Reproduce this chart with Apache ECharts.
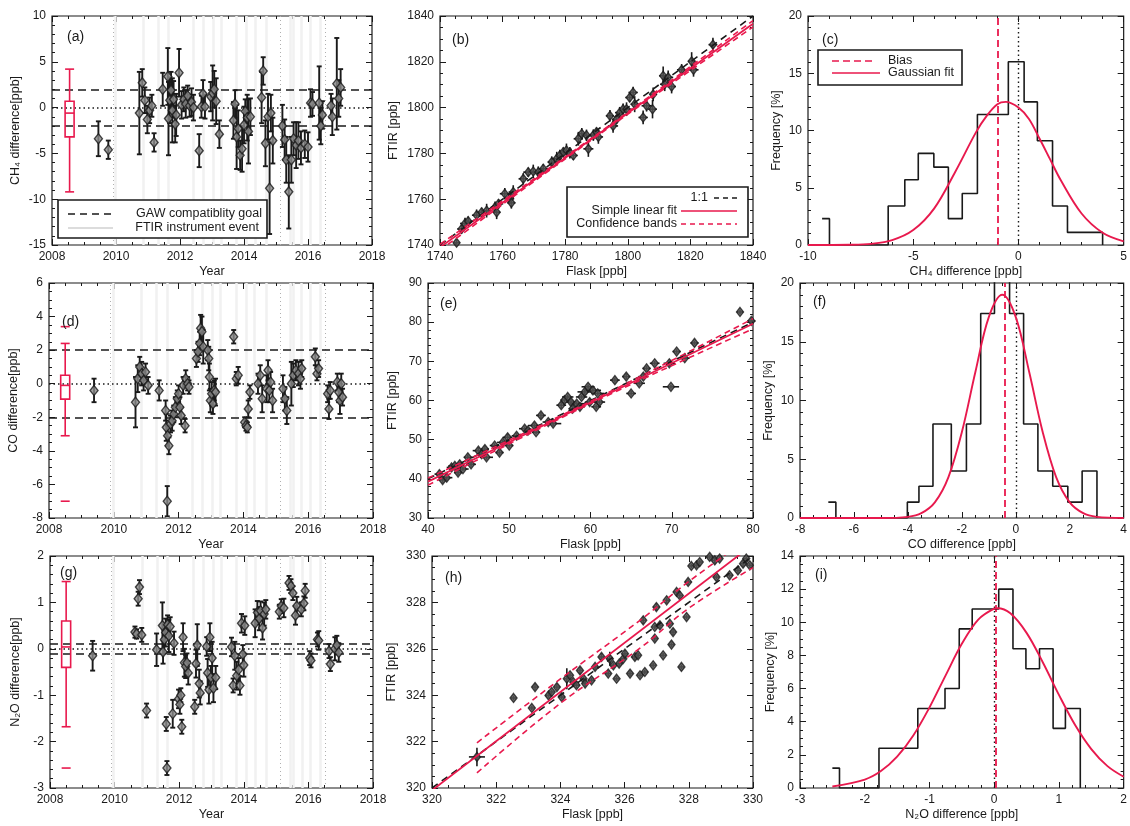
<!DOCTYPE html>
<html>
<head>
<meta charset="utf-8">
<title>FTIR vs flask comparison</title>
<script src="https://cdn.jsdelivr.net/npm/echarts@6/dist/echarts.min.js"></script>
<style>
  html, body { margin: 0; padding: 0; background: #fff; }
  #chart { width: 1130px; height: 826px; }
</style>
</head>
<body>
<div id="chart"></div>
<script>
const FONT = "'Liberation Sans', Arial, Helvetica, sans-serif";
const INK = '#1a1a1a';
const RED = '#e8194d';
const EVENT = '#f1f1f1';

// ---- instrument events (shared by the time series) ----
const eventYears = [2009.97, 2010.85, 2011.32, 2011.64, 2012.42, 2012.73, 2013.04, 2013.3, 2013.77,
  2014.08, 2014.34, 2014.71, 2015.44, 2015.54, 2015.8, 2016.06, 2016.38];
const eventDotted = [2009.9, 2015.13, 2016.53];

// ---- (a) CH4 difference time series ----
const aYear = [2009.45, 2009.76, 2010.73, 2010.82, 2010.9, 2010.98, 2011.05, 2011.12, 2011.19, 2011.46,
  2011.62, 2011.64, 2011.68, 2011.72, 2011.76, 2011.8, 2011.85, 2011.88, 2011.97, 2012.05,
  2012.12, 2012.18, 2012.24, 2012.3, 2012.36, 2012.42, 2012.6, 2012.67, 2012.72, 2012.78,
  2012.96, 2013.02, 2013.07, 2013.13, 2013.23, 2013.67, 2013.72, 2013.77, 2013.82, 2013.88,
  2013.94, 2014.0, 2014.04, 2014.1, 2014.14, 2014.2, 2014.55, 2014.6, 2014.67, 2014.75,
  2014.8, 2014.84, 2014.9, 2015.2, 2015.27, 2015.32, 2015.4, 2015.48, 2015.55, 2015.63,
  2015.7, 2015.78, 2015.9, 2016.0, 2016.08, 2016.14, 2016.35, 2016.4, 2016.45, 2016.72,
  2016.76, 2016.9, 2016.96, 2017.02];
const aDiff = [-3.4, -4.6, -0.6, 2.7, 0.8, -1.3, -0.3, 0.2, -3.8, 2.0,
  3.4, -1.2, 0.8, 1.9, -0.3, 0.9, -1.8, -0.8, 3.8, 0.3,
  0.9, 0.4, 1.3, 0.2, 0.6, 0.0, -4.7, 0.1, 1.5, 0.1,
  1.2, 1.6, 2.0, 0.7, -2.9, -1.4, 0.4, -3.2, -2.3, -5.2,
  -4.5, -1.9, -0.4, -1.1, -2.6, -1.0, 1.1, 4.0, -3.9, -1.0,
  -8.8, -0.6, -3.6, -2.0, -3.5, -5.7, -9.2, -5.7, -3.4, -4.1,
  -3.6, -4.4, -4.0, -4.3, 0.5, 0.4, 0.5, -2.0, -0.8, 0.2,
  -1.0, 2.6, 1.0, 2.2];
const aErr = [1.9, 1.0, 4.5, 1.5, 1.4, 1.5, 1.4, 1.2, 1.0, 1.8,
  3.1, 4.0, 2.5, 2.0, 3.5, 2.0, 2.0, 2.3, 2.6, 1.5,
  1.3, 1.5, 1.1, 1.2, 1.5, 1.4, 1.8, 1.2, 1.5, 1.3,
  1.6, 3.0, 2.0, 2.5, 1.5, 2.0, 1.5, 3.5, 2.0, 1.6,
  2.5, 2.0, 1.3, 2.5, 3.5, 2.0, 2.8, 1.5, 2.5, 2.5,
  5.0, 2.0, 2.5, 2.3, 2.2, 2.5, 4.0, 2.5, 1.8, 2.5,
  2.0, 1.8, 1.5, 1.6, 1.5, 1.3, 4.0, 2.0, 1.5, 1.3,
  2.0, 5.0, 2.0, 2.0];
const aBox = [2008.55, -9.2, -3.2, -0.6, 0.7, 4.2];   // x, min, q1, median, q3, max
const aOutliers = [];
const chGoal = [-2, 2];

// ---- (b) CH4 FTIR vs flask ----
const bFlask = [1745.3, 1746.9, 1748, 1749, 1751.7, 1753.3, 1754.9, 1757.6, 1758.7, 1758.1,
  1760.7, 1762.3, 1763.4, 1762.8, 1766.6, 1768.2, 1769.8, 1771.4, 1773, 1775.7,
  1777.3, 1778.3, 1779.4, 1780.4, 1781.5, 1782.6, 1784.2, 1785.3, 1786.8, 1787.4,
  1789, 1790, 1790.6, 1794.3, 1795.3, 1796.4, 1797.4, 1798.5, 1799.6, 1800.6,
  1801.7, 1802.2, 1804.9, 1806, 1807.9, 1808.1, 1811.8, 1811.3, 1812.9, 1814,
  1817.2, 1820.4, 1821, 1827.2];
const bFtir = [1741, 1747, 1749.4, 1750.4, 1753, 1754.3, 1755, 1756.5, 1758, 1754.3,
  1762.4, 1760.2, 1763.1, 1758.4, 1768.9, 1771.8, 1772.1, 1771.8, 1773.3, 1776.2,
  1777.7, 1779.1, 1780.6, 1781.3, 1780.3, 1779.1, 1786.4, 1788.6, 1787.9, 1782,
  1788, 1789.3, 1787.2, 1796.4, 1792, 1794.9, 1797.8, 1799.3, 1799.3, 1804.4,
  1806.6, 1801.5, 1795.7, 1800.8, 1799.3, 1805.8, 1810.2, 1813.9, 1813.2, 1809.2,
  1816.5, 1820.2, 1816.5, 1827.5];
const bErrX = [1.0, 1.4, 1.6, 1.2, 1.5, 1.3, 1.6, 1.4, 1.5, 1.2,
  1.6, 1.4, 1.5, 1.3, 1.5, 1.6, 1.4, 1.2, 1.5, 1.3,
  1.6, 1.4, 1.5, 1.2, 1.6, 1.4, 1.5, 1.3, 1.5, 1.6,
  1.4, 1.2, 1.5, 1.3, 1.6, 1.4, 1.5, 1.2, 1.6, 1.4,
  1.5, 1.3, 1.5, 1.6, 1.4, 1.2, 1.5, 1.3, 1.6, 1.4,
  1.5, 1.2, 1.6, 1.4];
const bErrY = [1.5, 2.0, 2.5, 2.0, 2.5, 2.0, 3.0, 2.5, 2.0, 3.0,
  2.5, 2.0, 3.0, 2.5, 2.5, 2.0, 3.0, 2.5, 2.0, 2.5,
  3.0, 2.5, 2.0, 3.0, 2.5, 2.0, 3.0, 2.5, 2.5, 3.5,
  2.5, 2.0, 3.0, 2.5, 3.0, 2.0, 2.5, 2.5, 3.0, 2.0,
  2.5, 3.5, 3.0, 2.5, 4.0, 3.0, 3.0, 4.0, 3.0, 3.0,
  2.5, 4.0, 3.0, 3.0];
const bLineX = [1740, 1790, 1840];
const bOneToOne = [1740, 1790, 1840];
const bFit = [1739.0, 1787.8, 1836.6];
const bUpper = [1740.3, 1788.2, 1838.0];
const bLower = [1737.7, 1787.4, 1835.2];

// ---- (c) CH4 difference histogram ----
const cEdges = [-9.33, -8.98, -6.19, -5.40, -4.76, -4.02, -3.33, -2.67, -1.95, -1.2, -0.48, 0.27, 0.90, 1.62, 2.33, 3.1, 4.0];
const cFreq = [2.3, 0, 3.4, 5.7, 8.0, 6.8, 2.3, 4.5, 11.4, 11.4, 16.0, 12.5, 9.1, 3.4, 1.1, 1.1];
const cGaussX = [-10, -8, -7, -6, -5, -4, -3, -2, -1.5, -1, -0.6, 0, 0.5, 1, 1.5, 2, 3, 4, 5];
const cGaussY = [0.0, 0.02, 0.1, 0.42, 1.3, 3.2, 6.4, 9.9, 11.3, 12.3, 12.5, 12.0, 11.0, 9.3, 7.5, 5.7, 2.75, 1.07, 0.32];
const cBias = -1.0;

// ---- (d) CO difference time series ----
const dYear = [2009.39, 2010.67, 2010.74, 2010.8, 2010.86, 2010.92, 2010.98, 2011.06, 2011.4, 2011.6,
  2011.62, 2011.66, 2011.7, 2011.65, 2011.75, 2011.8, 2011.85, 2011.9, 2011.96, 2012.0,
  2012.04, 2012.08, 2012.14, 2012.2, 2012.22, 2012.28, 2012.32, 2012.55, 2012.6, 2012.65,
  2012.68, 2012.72, 2012.76, 2012.9, 2012.93, 2012.95, 2012.98, 2013.02, 2013.06, 2013.1,
  2013.14, 2013.7, 2013.78, 2013.84, 2014.04, 2014.08, 2014.12, 2014.15, 2014.2, 2014.45,
  2014.52, 2014.58, 2014.72, 2014.76, 2014.8, 2014.84, 2014.9, 2015.22, 2015.28, 2015.34,
  2015.48, 2015.54, 2015.62, 2015.7, 2015.76, 2015.8, 2016.22, 2016.27, 2016.32, 2016.6,
  2016.64, 2016.68, 2016.9, 2016.94, 2016.98, 2017.02, 2017.06];
const dDiff = [-0.4, -1.1, 0.3, 1.0, 0.6, 0.2, 0.7, -0.1, -0.4, -1.6,
  -2.6, -3.1, -3.7, -7.0, -2.4, -2.2, -1.8, -1.4, -0.9, -0.6,
  -1.4, -1.9, -0.1, -2.5, 0.3, 0.0, -0.2, 1.5, 1.9, 2.4,
  3.3, 3.1, 2.2, 2.0, 1.5, 0.4, -1.0, -0.6, -1.2, -0.4,
  -0.5, 2.8, 0.3, 0.5, -2.3, -2.5, -2.6, -1.5, -0.5, 0.0,
  0.5, -0.9, -0.3, 0.8, -0.4, 0.1, -1.0, -0.3, -0.9, -1.6,
  0.0, 0.5, 0.8, 0.6, 0.3, 0.9, 1.6, 0.6, 0.9, -0.6,
  -1.5, -0.4, 0.1, -0.5, -1.0, 0.0, -0.8];
const dErr = [0.7, 1.5, 0.8, 0.6, 0.7, 0.6, 0.5, 0.5, 0.6, 0.6,
  0.8, 0.6, 0.5, 0.9, 0.5, 0.6, 0.5, 0.6, 0.5, 0.5,
  0.6, 0.5, 0.5, 0.4, 0.5, 0.4, 0.4, 0.5, 0.6, 0.7,
  0.8, 0.9, 1.0, 0.6, 0.7, 0.8, 0.7, 0.7, 0.6, 0.6,
  0.8, 0.4, 0.4, 0.5, 0.3, 0.3, 0.3, 0.5, 0.4, 0.6,
  0.6, 0.8, 0.8, 0.6, 0.7, 0.6, 0.7, 0.8, 0.7, 0.8,
  1.3, 0.7, 0.6, 0.7, 0.6, 0.5, 0.5, 0.4, 0.5, 0.5,
  0.6, 0.5, 0.5, 0.6, 0.8, 0.6, 0.5];
const dBox = [2008.5, -3.1, -0.92, -0.1, 0.5, 2.4];
const dOutliers = [3.4, -7.0];
const coGoal = [-2, 2];

// ---- (e) CO FTIR vs flask ----
const eFlask = [41.4, 41.8, 42.3, 42.9, 43.3, 43.7, 43.9, 44.3, 44.9, 45.3,
  46.2, 46.6, 47, 47.2, 48.2, 48.8, 49.2, 49.8, 50, 50.9,
  51.9, 52.3, 53.1, 53.3, 53.9, 54.8, 55.4, 56.4, 56.8, 57.2,
  57.6, 57.8, 58.3, 58.7, 58.9, 59.3, 59.7, 59.9, 60.3, 60.7,
  61.1, 60.9, 63, 64.4, 65, 66, 66.5, 66.9, 67.9, 69.7,
  69.9, 70.6, 71.6, 72.8, 78.4, 79.8];
const eFtir = [41.2, 39.7, 40.3, 42.9, 43.3, 41.6, 43.7, 42.5, 45.5, 43.7,
  47.2, 46.3, 47.6, 45.5, 48.5, 46.7, 49.3, 50.6, 48.5, 51,
  52.8, 52.3, 53.6, 51.9, 56.2, 54.5, 54.1, 58.8, 60.1, 60.9,
  59.6, 57.9, 59.2, 58.4, 60.9, 62.2, 63.5, 59.6, 62.6, 58.4,
  59.6, 61.8, 65.2, 66.1, 61.8, 64.4, 66.1, 68.2, 69.5, 69.5,
  63.5, 72.5, 70.8, 74.7, 82.6, 80.3];
const eErrX = [0.6, 0.5, 0.7, 0.6, 0.8, 0.5, 0.6, 0.7, 0.5, 0.6,
  0.7, 0.6, 0.5, 0.8, 0.6, 0.5, 0.7, 0.6, 0.5, 0.6,
  0.7, 0.6, 0.8, 0.5, 0.6, 0.7, 1.0, 0.6, 0.5, 0.7,
  0.6, 0.5, 0.8, 0.6, 0.7, 0.9, 0.8, 0.6, 1.0, 0.6,
  0.7, 0.8, 0.6, 0.5, 0.6, 0.7, 0.6, 0.5, 0.6, 0.7,
  1.0, 0.5, 0.6, 0.5, 0.4, 0.5];
const eErrY = [0.6, 0.7, 0.6, 0.8, 0.6, 0.7, 0.6, 0.5, 0.7, 0.6,
  0.8, 0.6, 0.7, 0.6, 0.6, 0.7, 0.6, 0.8, 0.6, 0.7,
  0.6, 0.7, 0.6, 0.5, 0.7, 0.6, 0.6, 0.8, 0.7, 0.6,
  0.7, 0.8, 0.6, 0.7, 0.6, 0.7, 0.6, 0.8, 0.7, 0.6,
  0.7, 0.6, 0.6, 0.7, 0.6, 0.6, 0.7, 0.6, 0.6, 0.7,
  0.5, 0.6, 0.7, 0.6, 0.6, 0.7];
const eLineX = [40, 60, 80];
const eOneToOne = [40, 60, 80];
const eFit = [39.3, 59.5, 79.6];
const eUpper = [40.2, 59.8, 80.9];
const eLower = [38.4, 59.2, 78.3];

// ---- (f) CO difference histogram ----
const fEdges = [-6.95, -6.67, -4.02, -3.59, -3.07, -2.39, -1.83, -1.30, -0.79, -0.23, 0.29, 0.82, 1.37, 1.93, 2.46, 3.01];
const fFreq = [1.35, 0, 1.35, 2.7, 8.0, 4.0, 8.0, 17.4, 21.3, 17.4, 8.0, 4.0, 2.7, 1.35, 4.0];
const fGaussX = [-8, -5, -4, -3.5, -3, -2.5, -2, -1.5, -1, -0.5, 0, 0.5, 1, 1.5, 2, 2.5, 3, 4];
const fGaussY = [0, 0, 0.1, 0.41, 1.33, 3.46, 7.3, 12.4, 17.1, 19.0, 17.1, 12.4, 7.3, 3.46, 1.33, 0.41, 0.1, 0];
const fBias = -0.42;

// ---- (g) N2O difference time series ----
const gYear = [2009.32, 2010.63, 2010.68, 2010.73, 2010.77, 2010.84, 2010.99, 2011.3, 2011.48, 2011.5,
  2011.54, 2011.58, 2011.6, 2011.62, 2011.64, 2011.68, 2011.72, 2011.8, 2011.84, 2011.98,
  2012.02, 2012.05, 2012.08, 2012.12, 2012.16, 2012.2, 2012.24, 2012.28, 2012.48, 2012.52,
  2012.56, 2012.62, 2012.65, 2012.85, 2012.88, 2012.92, 2012.95, 2012.98, 2013.02, 2013.06,
  2013.13, 2013.62, 2013.67, 2013.72, 2013.78, 2013.84, 2013.88, 2013.93, 2013.97, 2014.0,
  2014.03, 2014.35, 2014.42, 2014.48, 2014.52, 2014.58, 2014.63, 2014.68, 2015.1, 2015.16,
  2015.24, 2015.4, 2015.46, 2015.52, 2015.6, 2015.64, 2015.78, 2015.86, 2015.9, 2016.04,
  2016.08, 2016.28, 2016.32, 2016.64, 2016.68, 2016.82, 2016.88, 2016.94];
const gDiff = [-0.15, 0.36, 0.32, 1.08, 1.33, 0.3, -1.33, -0.02, 0.5, -0.07,
  0.2, 0.35, -1.62, -2.57, 0.52, 0.28, 0.48, -1.4, 0.12, -1.08,
  -1.2, -1.0, -1.68, 0.25, -0.3, -0.38, -0.3, -0.52, -1.25, -0.32,
  0.08, -0.75, -0.95, 0.05, -0.52, -0.88, 0.25, -0.62, -0.2, -0.85,
  -0.62, 0.04, -0.79, -0.15, -0.58, -0.45, -0.79, 0.55, -0.12, -0.35,
  0.5, 0.55, 0.78, 0.65, 0.82, 0.45, 0.75, 0.85, 0.8, 0.92,
  0.88, 1.42, 1.35, 1.2, 0.72, 0.92, 0.85, 0.98, 1.25, -0.2,
  -0.25, 0.2, 0.18, -0.05, -0.33, 0.0, 0.08, -0.08];
const gErr = [0.32, 0.12, 0.1, 0.15, 0.15, 0.15, 0.15, 0.35, 0.5, 0.25,
  0.3, 0.3, 0.15, 0.15, 0.2, 0.35, 0.2, 0.3, 0.25, 0.2,
  0.2, 0.15, 0.15, 0.3, 0.3, 0.25, 0.2, 0.25, 0.15, 0.3,
  0.45, 0.3, 0.25, 0.2, 0.3, 0.3, 0.3, 0.25, 0.35, 0.3,
  0.25, 0.2, 0.15, 0.3, 0.3, 0.25, 0.2, 0.2, 0.2, 0.25,
  0.2, 0.3, 0.25, 0.25, 0.2, 0.25, 0.25, 0.2, 0.15, 0.15,
  0.2, 0.15, 0.15, 0.15, 0.2, 0.2, 0.15, 0.15, 0.15, 0.15,
  0.15, 0.15, 0.2, 0.15, 0.15, 0.25, 0.2, 0.2];
const gBox = [2008.5, -1.68, -0.4, 0.04, 0.6, 1.45];
const gOutliers = [-2.57];
const n2oGoal = [-0.1, 0.1];

// ---- (h) N2O FTIR vs flask ----
const hFlask = [321.4, 322.54, 323.11, 323.21, 323.63, 323.73, 323.89, 324.04, 324.2, 324.3,
  324.4, 324.5, 324.61, 324.72, 324.77, 324.97, 325.08, 325.28, 325.49, 325.54,
  325.65, 325.75, 325.83, 325.96, 326.01, 326.17, 326.32, 326.42, 326.48, 326.58,
  326.63, 326.89, 326.94, 326.94, 326.99, 327.1, 327.2, 327.31, 327.41, 327.46,
  327.51, 327.62, 327.72, 327.77, 327.93, 327.98, 328.08, 328.24, 328.34, 328.65,
  328.81, 328.86, 328.96, 329.27, 329.53, 329.69, 329.79, 329.9];
const hFtir = [321.34, 323.88, 323.45, 324.35, 323.99, 324.14, 324.35, 323.92, 324.71, 324.86,
  324.57, 324.43, 325.07, 324.71, 324.5, 324.64, 325.22, 325.65, 324.93, 325.57,
  325.29, 324.71, 325.36, 325.57, 325.79, 324.93, 325.65, 325.72, 324.86, 327.23,
  325.0, 325.29, 326.44, 326.94, 327.8, 327.01, 325.72, 328.09, 327.08, 326.18,
  326.72, 328.45, 328.3, 325.22, 327.37, 328.88, 329.57, 329.6, 329.74, 329.96,
  329.81, 329.09, 329.89, 329.17, 329.38, 329.67, 329.89, 329.6];
const hErrX = [0.25, 0.08, 0.08, 0.08, 0.1, 0.08, 0.08, 0.1, 0.08, 0.08,
  0.08, 0.1, 0.08, 0.08, 0.08, 0.1, 0.08, 0.08, 0.08, 0.1,
  0.08, 0.08, 0.1, 0.08, 0.08, 0.08, 0.1, 0.08, 0.08, 0.08,
  0.1, 0.08, 0.08, 0.08, 0.1, 0.08, 0.08, 0.08, 0.1, 0.08,
  0.08, 0.1, 0.08, 0.08, 0.08, 0.1, 0.08, 0.08, 0.08, 0.1,
  0.08, 0.08, 0.08, 0.1, 0.08, 0.08, 0.08, 0.08];
const hErrY = [0.4, 0.1, 0.1, 0.12, 0.1, 0.1, 0.12, 0.1, 0.45, 0.12,
  0.1, 0.12, 0.15, 0.1, 0.12, 0.1, 0.12, 0.15, 0.1, 0.3,
  0.12, 0.1, 0.12, 0.1, 0.15, 0.1, 0.12, 0.1, 0.1, 0.15,
  0.1, 0.1, 0.12, 0.1, 0.15, 0.12, 0.1, 0.12, 0.1, 0.1,
  0.12, 0.1, 0.12, 0.1, 0.1, 0.12, 0.1, 0.12, 0.1, 0.1,
  0.12, 0.1, 0.12, 0.1, 0.1, 0.12, 0.1, 0.1];
const hLineX = [320, 330];
const hOneToOne = [320, 330];
const hFit = [319.9, 330.5];
const hBandX = [321.4, 324, 326.5, 328, 330];
const hUpper = [321.95, 324.7, 327.25, 328.9, 330.9];
const hLower = [320.65, 323.65, 326.05, 327.75, 329.5];

// ---- (i) N2O difference histogram ----
const iEdges = [-2.5, -2.39, -1.78, -1.18, -0.76, -0.54, -0.34, 0.07, 0.29, 0.49, 0.70, 0.91, 1.10, 1.33];
const iFreq = [1.2, 0, 2.4, 4.8, 6.0, 9.6, 10.8, 12.0, 8.4, 7.2, 8.4, 3.6, 4.8];
const iGaussX = [-2.5, -2, -1.75, -1.5, -1.25, -1, -0.75, -0.5, -0.25, 0, 0.05, 0.25, 0.5, 0.75, 1, 1.25, 1.5, 1.75, 2];
const iGaussY = [0.09, 0.51, 1.02, 1.89, 3.17, 4.86, 6.8, 8.7, 10.15, 10.82, 10.85, 10.54, 9.36, 7.59, 5.62, 3.8, 2.35, 1.32, 0.68];
const iBias = 0.02;

// ---------------------------------------------------------------------------
const zip = (...cols) => cols[0].map((_, i) => cols.map(c => c[i]));

const grids = [
  {left: 52, top: 16, width: 320, height: 229},
  {left: 440, top: 16, width: 313, height: 229},
  {left: 808, top: 16, width: 316, height: 229},
  {left: 49, top: 283, width: 324, height: 235},
  {left: 428, top: 283, width: 325, height: 235},
  {left: 800, top: 283, width: 324, height: 235},
  {left: 50, top: 556, width: 323, height: 232},
  {left: 432, top: 556, width: 321, height: 232},
  {left: 800, top: 556, width: 324, height: 232}
].map(g => Object.assign({show: true, borderColor: INK, borderWidth: 1.2, backgroundColor: 'transparent'}, g));

// [min, max, interval, minor split, name, nameGap]
const axisSpec = [
  {x: [2008, 2018, 2, 4, 'Year', 20], y: [-15, 10, 5, 5, 'CH₄ difference[ppb]', 30]},
  {x: [1740, 1840, 20, 4, 'Flask [ppb]', 20], y: [1740, 1840, 20, 4, 'FTIR [ppb]', 40]},
  {x: [-10, 5, 5, 5, 'CH₄ difference [ppb]', 20], y: [0, 20, 5, 5, 'Frequency [%]', 25]},
  {x: [2008, 2018, 2, 4, 'Year', 20], y: [-8, 6, 2, 4, 'CO difference[ppb]', 29]},
  {x: [40, 80, 10, 5, 'Flask [ppb]', 20], y: [30, 90, 10, 5, 'FTIR [ppb]', 29]},
  {x: [-8, 4, 2, 4, 'CO difference [ppb]', 20], y: [0, 20, 5, 5, 'Frequency [%]', 25]},
  {x: [2008, 2018, 2, 4, 'Year', 20], y: [-3, 2, 1, 5, 'N₂O difference[ppb]', 28]},
  {x: [320, 330, 2, 4, 'Flask [ppb]', 20], y: [320, 330, 2, 4, 'FTIR [ppb]', 34]},
  {x: [-3, 2, 1, 5, 'N₂O difference [ppb]', 20], y: [0, 14, 2, 4, 'Frequency [%]', 23]}
];

function makeAxis(dim, gi, s, mirror) {
  const [min, max, interval, minor, name, gap] = s;
  return {
    type: 'value', gridIndex: gi, min, max, interval,
    position: mirror ? (dim === 'x' ? 'top' : 'right') : (dim === 'x' ? 'bottom' : 'left'),
    name: mirror ? '' : name, nameLocation: 'middle', nameGap: gap,
    nameTextStyle: {fontFamily: FONT, fontSize: 12.5, color: INK},
    axisLine: {show: false, onZero: false},
    axisTick: {show: true, inside: true, length: 6, lineStyle: {color: INK, width: 1}},
    minorTick: {show: true, splitNumber: minor, length: 3, lineStyle: {color: INK, width: 1}},
    axisLabel: {show: !mirror, fontFamily: FONT, fontSize: 12, color: INK, margin: 6,
      showMinLabel: true, showMaxLabel: true, formatter: v => String(v)},
    splitLine: {show: false}
  };
}

const xAxes = [], yAxes = [];
axisSpec.forEach((s, gi) => {
  xAxes.push(makeAxis('x', gi, s.x, false), makeAxis('x', gi, s.x, true));
  yAxes.push(makeAxis('y', gi, s.y, false), makeAxis('y', gi, s.y, true));
});

const on = p => ({xAxisIndex: 2 * p, yAxisIndex: 2 * p});

function refLines(p, items) {
  return Object.assign({type: 'line', data: [], z: 1, silent: true,
    markLine: {z: 1, silent: true, symbol: ['none', 'none'], label: {show: false}, animation: false, data: items}}, on(p));
}

function errBarsY(p, data) {
  return Object.assign({type: 'custom', data, z: 3, silent: true,
    renderItem(params, api) {
      const x = api.value(0), y = api.value(1), e = api.value(2);
      const lo = api.coord([x, y - e]), hi = api.coord([x, y + e]);
      const st = {stroke: INK, lineWidth: 1.9};
      return {type: 'group', children: [
        {type: 'line', shape: {x1: lo[0], y1: lo[1], x2: hi[0], y2: hi[1]}, style: st},
        {type: 'line', shape: {x1: lo[0] - 2.5, y1: lo[1], x2: lo[0] + 2.5, y2: lo[1]}, style: st},
        {type: 'line', shape: {x1: hi[0] - 2.5, y1: hi[1], x2: hi[0] + 2.5, y2: hi[1]}, style: st}
      ]};
    }}, on(p));
}

function errCross(p, data) {
  return Object.assign({type: 'custom', data, z: 3, silent: true,
    renderItem(params, api) {
      const x = api.value(0), y = api.value(1), ex = api.value(2), ey = api.value(3);
      const l = api.coord([x - ex, y]), r = api.coord([x + ex, y]);
      const b = api.coord([x, y - ey]), t = api.coord([x, y + ey]);
      const st = {stroke: INK, lineWidth: 1.6};
      return {type: 'group', children: [
        {type: 'line', shape: {x1: l[0], y1: l[1], x2: r[0], y2: r[1]}, style: st},
        {type: 'line', shape: {x1: b[0], y1: b[1], x2: t[0], y2: t[1]}, style: st}
      ]};
    }}, on(p));
}

function diamonds(p, data, size, fill) {
  return Object.assign({type: 'scatter', data, symbol: 'diamond', symbolSize: size, z: 4, silent: true,
    itemStyle: {color: fill, borderColor: INK, borderWidth: 1.4}}, on(p));
}

function boxPlot(p, box) {
  return Object.assign({type: 'custom', data: [box], z: 5, silent: true,
    renderItem(params, api) {
      const x = api.value(0);
      const pt = [1, 2, 3, 4, 5].map(k => api.coord([x, api.value(k)]));
      const cx = pt[0][0], w = 4.5;
      const st = {stroke: RED, lineWidth: 1.6, fill: 'none'};
      return {type: 'group', children: [
        {type: 'line', shape: {x1: cx, y1: pt[0][1], x2: cx, y2: pt[1][1]}, style: st},
        {type: 'line', shape: {x1: cx, y1: pt[3][1], x2: cx, y2: pt[4][1]}, style: st},
        {type: 'line', shape: {x1: cx - w, y1: pt[0][1], x2: cx + w, y2: pt[0][1]}, style: st},
        {type: 'line', shape: {x1: cx - w, y1: pt[4][1], x2: cx + w, y2: pt[4][1]}, style: st},
        {type: 'rect', shape: {x: cx - w, y: pt[3][1], width: 2 * w, height: pt[1][1] - pt[3][1]}, style: st},
        {type: 'line', shape: {x1: cx - w, y1: pt[2][1], x2: cx + w, y2: pt[2][1]}, style: st}
      ]};
    }}, on(p));
}

function outlierMarks(p, data) {
  return Object.assign({type: 'custom', data, z: 5, silent: true,
    renderItem(params, api) {
      const c = api.coord([api.value(0), api.value(1)]);
      return {type: 'line', shape: {x1: c[0] - 4.5, y1: c[1], x2: c[0] + 4.5, y2: c[1]},
        style: {stroke: RED, lineWidth: 1.6}};
    }}, on(p));
}

function curve(p, xs, ys, color, dash, smooth, width) {
  return Object.assign({type: 'line', data: zip(xs, ys), symbol: 'none', smooth: smooth || false, z: 6, silent: true,
    lineStyle: {color, width: width || 1.8, type: dash || 'solid'}}, on(p));
}

function histLine(p, edges, freq) {
  const pts = freq.map((f, i) => [edges[i], f]);
  pts.push([edges[edges.length - 1], 0]);
  return Object.assign({type: 'line', step: 'end', data: pts, symbol: 'none', z: 3, silent: true,
    lineStyle: {color: INK, width: 1.6}}, on(p));
}

function timePanel(p, years, diffs, errs, goal, box, outliers) {
  const marks = eventYears.map(v => ({xAxis: v, lineStyle: {color: EVENT, width: 2.5, type: 'solid'}}))
    .concat(eventDotted.map(v => ({xAxis: v, lineStyle: {color: '#b0b0b0', width: 1, type: [1, 3]}})))
    .concat(goal.map(v => ({yAxis: v, lineStyle: {color: INK, width: 1.6, type: [8, 5]}})))
    .concat([{yAxis: 0, lineStyle: {color: INK, width: 1.5, type: [1.5, 3]}}]);
  const s = [refLines(p, marks), errBarsY(p, zip(years, diffs, errs)),
    diamonds(p, zip(years, diffs), [8, 10], '#8a8a8a'), boxPlot(p, box)];
  if (outliers.length) s.push(outlierMarks(p, outliers.map(v => [box[0], v])));
  return s;
}

function scatterPanel(p, fx, fy, ex, ey, lineX, one, fit, bandX, upper, lower) {
  return [
    errCross(p, zip(fx, fy, ex, ey)),
    diamonds(p, zip(fx, fy), [7, 9], '#555'),
    curve(p, lineX, one, INK, [7, 5], false, 1.6),
    curve(p, lineX, fit, RED, 'solid', false, 1.8),
    curve(p, bandX, upper, RED, [6, 4], 0.4, 1.6),
    curve(p, bandX, lower, RED, [6, 4], 0.4, 1.6)
  ];
}

function histPanel(p, edges, freq, gx, gy, bias) {
  return [
    refLines(p, [
      {xAxis: 0, lineStyle: {color: INK, width: 1.4, type: [1.5, 3]}},
      {xAxis: bias, lineStyle: {color: RED, width: 1.8, type: [7, 4]}}
    ]),
    histLine(p, edges, freq),
    curve(p, gx, gy, RED, 'solid', 0.35, 1.9)
  ];
}

const series = [].concat(
  timePanel(0, aYear, aDiff, aErr, chGoal, aBox, aOutliers),
  scatterPanel(1, bFlask, bFtir, bErrX, bErrY, bLineX, bOneToOne, bFit, bLineX, bUpper, bLower),
  histPanel(2, cEdges, cFreq, cGaussX, cGaussY, cBias),
  timePanel(3, dYear, dDiff, dErr, coGoal, dBox, dOutliers),
  scatterPanel(4, eFlask, eFtir, eErrX, eErrY, eLineX, eOneToOne, eFit, eLineX, eUpper, eLower),
  histPanel(5, fEdges, fFreq, fGaussX, fGaussY, fBias),
  timePanel(6, gYear, gDiff, gErr, n2oGoal, gBox, gOutliers),
  scatterPanel(7, hFlask, hFtir, hErrX, hErrY, hLineX, hOneToOne, hFit, hBandX, hUpper, hLower),
  histPanel(8, iEdges, iFreq, iGaussX, iGaussY, iBias)
);

// ---- panel letters and legend boxes ----
const g = [];
const txt = (x, y, text, size, align) => g.push({type: 'text', x, y, z: 100,
  style: {text, fill: INK, font: `${size}px ${FONT}`, align: align || 'left', verticalAlign: 'middle'}});
const seg = (x1, y1, x2, y2, stroke, dash, width) => g.push({type: 'line', z: 100,
  shape: {x1, y1, x2, y2}, style: {stroke, lineWidth: width || 1.6, lineDash: dash || null}});
const box = (x, y, w, h) => g.push({type: 'rect', z: 99, shape: {x, y, width: w, height: h},
  style: {fill: '#fff', stroke: INK, lineWidth: 1.6}});

[['(a)', 67, 37], ['(b)', 452, 40], ['(c)', 822, 40], ['(d)', 62, 322], ['(e)', 440, 304],
 ['(f)', 813, 302], ['(g)', 60, 573], ['(h)', 445, 578], ['(i)', 815, 575]]
  .forEach(([t, x, y]) => txt(x, y, t, 14));

// (a) legend
box(58, 200, 209, 38);
seg(68, 214, 113, 214, INK, [7, 5]);
seg(68, 228, 113, 228, '#dcdcdc', null, 2);
txt(262, 214, 'GAW compatiblity goal', 12.5, 'right');
txt(259, 228, 'FTIR instrument event', 12.5, 'right');

// (b) legend
box(567, 187, 181, 50);
txt(708, 198, '1:1', 12.5, 'right');
seg(714, 198, 737, 198, INK, [5, 4]);
txt(677, 211, 'Simple linear fit', 12.5, 'right');
seg(681, 211, 737, 211, RED);
txt(677, 224, 'Confidence bands', 12.5, 'right');
seg(681, 224, 737, 224, RED, [5, 4]);

// (c) legend
box(818, 50, 144, 35);
seg(832, 61, 876, 61, RED, [7, 4]);
txt(888, 61, 'Bias', 12.5);
seg(832, 73, 880, 73, RED);
txt(888, 73, 'Gaussian fit', 12.5);

const chart = echarts.init(document.getElementById('chart'));
chart.setOption({
  animation: false,
  backgroundColor: '#fff',
  grid: grids,
  xAxis: xAxes,
  yAxis: yAxes,
  series,
  graphic: {elements: g}
});
</script>
</body>
</html>
